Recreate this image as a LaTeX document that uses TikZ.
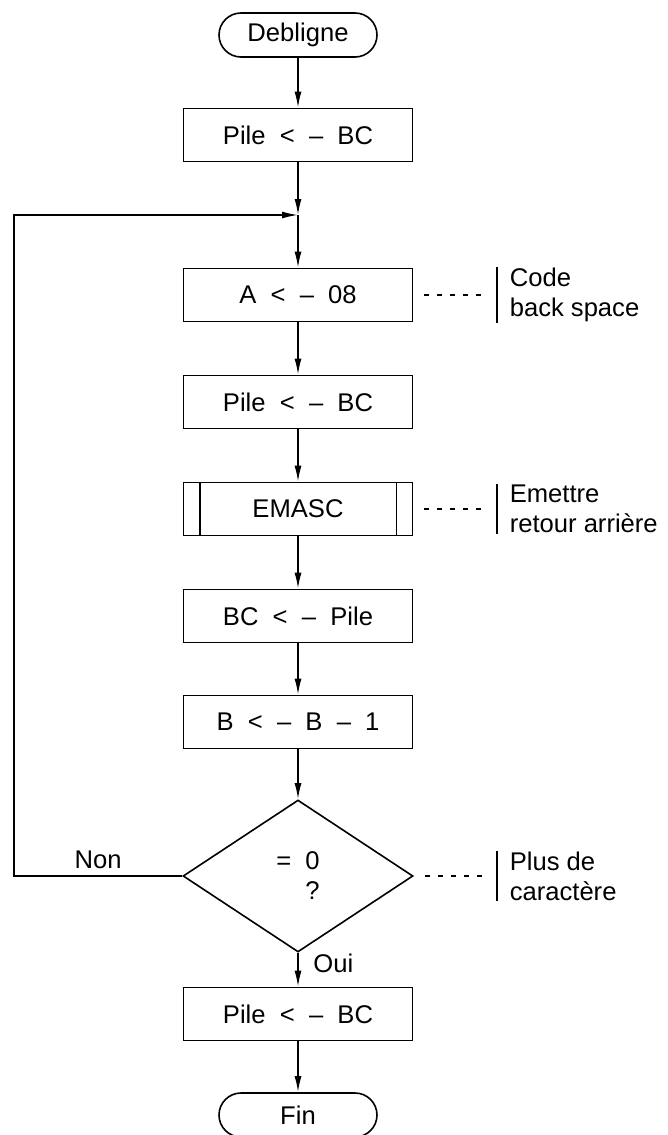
\documentclass[tikz,border=0pt]{standalone}
\usepackage{fontspec}
\setmainfont{Liberation Sans}
\usetikzlibrary{shapes.geometric,arrows.meta}

\begin{document}
\begin{tikzpicture}[x=0.5pt, y=-0.5pt, line width=0.8pt,
	font=\fontsize{12.8}{15}\selectfont,
	fleche/.style={-{Latex[length=8pt,width=3.5pt]}},
	terminal/.style={draw, rounded corners=11pt, minimum width=79pt, minimum height=22pt},
	boite/.style={draw, minimum width=114.5pt, minimum height=26.5pt},
	test/.style={draw, diamond, minimum width=115pt, minimum height=76pt, inner sep=0pt, align=right},
	note/.style={anchor=west, align=left, inner xsep=6pt, inner ysep=0pt},
	pointille/.style={dash pattern=on 2.5pt off 4pt, shorten <=5.5pt, shorten >=5pt}]
	\useasboundingbox (0,0) rectangle (668,1135);
	\draw (298,35) node[terminal] (debut) {Debligne};
	\draw (298,135) node[boite] (pile1) {Pile\ \ <\ \ --\ \ BC};
	\coordinate (boucle) at (298,215);
	\draw (298,295) node[boite] (code) {A\ \ <\ \ --\ \ 08};
	\draw (298,402) node[boite] (pile2) {Pile\ \ <\ \ --\ \ BC};
	\draw (298,509) node[boite] (emasc) {EMASC};
	\draw (298,616) node[boite] (depile) {BC\ \ <\ \ --\ \ Pile};
	\draw (298,722) node[boite] (decr) {B\ \ <\ \ --\ \ B\ \ --\ \ 1};
	\draw (298,876) node[test] (zero) {=\ \ 0\\?};
	\draw (298,1014) node[boite] (pile3) {Pile\ \ <\ \ --\ \ BC};
	\draw (298,1115) node[terminal] (fin) {Fin};
	\coordinate (retour) at (14,876);
	% bords du sous-programme
	\draw ([xshift=8.5pt]emasc.north west) -- ([xshift=8.5pt]emasc.south west);
	\draw ([xshift=-8.5pt]emasc.north east) -- ([xshift=-8.5pt]emasc.south east);
	% liaisons
	\draw[fleche] (debut) -- (pile1);
	\draw[fleche] (pile1) -- (boucle);
	\draw[fleche] (boucle) -- (code);
	\draw[fleche] (code) -- (pile2);
	\draw[fleche] (pile2) -- (emasc);
	\draw[fleche] (emasc) -- (depile);
	\draw[fleche] (depile) -- (decr);
	\draw[fleche] (decr) -- (zero);
	\draw[fleche] (zero.west) -- node[above] {Non} (retour) |- (boucle);
	\draw[fleche] (zero.south) -- node[right=4pt, pos=0.3] {Oui} (pile3);
	\draw[fleche] (pile3) -- (fin);
	% commentaires
	\draw (497,295) node[note] (n1) {Code\\back space};
	\draw (n1.north west) -- (n1.south west);
	\draw[pointille] (code) -- (n1);
	\draw (497,509) node[note] (n2) {Emettre\\retour arrière};
	\draw (n2.north west) -- (n2.south west);
	\draw[pointille] (emasc) -- (n2);
	\draw (497,876) node[note] (n3) {Plus de\\caractère};
	\draw (n3.north west) -- (n3.south west);
	\draw[pointille] (zero) -- (n3);
\end{tikzpicture}
\end{document}
